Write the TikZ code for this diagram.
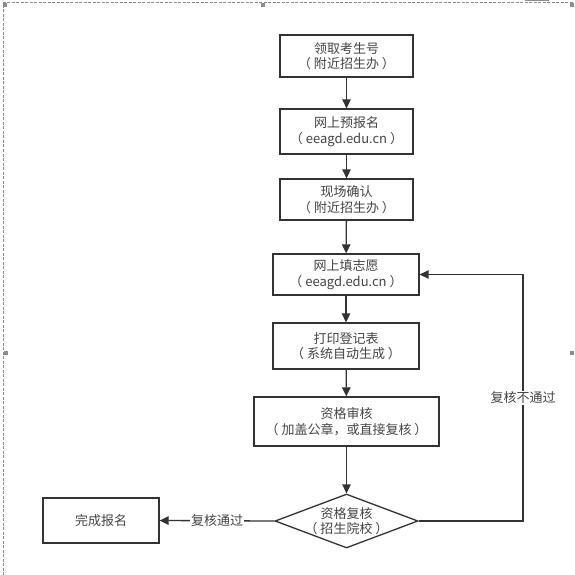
\documentclass[tikz,border=0pt]{standalone}
\usepackage{fontspec}
\setmainfont{Noto Sans CJK SC}
\usetikzlibrary{shapes.geometric,arrows.meta}
\definecolor{linec}{HTML}{333333}
\definecolor{textc}{HTML}{444444}
\definecolor{framec}{HTML}{8C8C8C}
\begin{document}
\begin{tikzpicture}[x=1pt,y=-1pt,
  every node/.style={font=\fontsize{13}{15.5}\selectfont, text=textc},
  stepbox/.style={draw=linec, line width=1.3pt, rectangle, align=center, inner sep=0pt},
  conn/.style={draw=linec, line width=1.3pt, -{Triangle[length=9pt,width=8.5pt]}},
  lbl/.style={fill=white, inner sep=1pt},
  handle/.style={fill=framec, draw=none}
]
\useasboundingbox (0,0) rectangle (574,575);
% frame
\draw[framec, line width=0.8pt, dash pattern=on 3pt off 1.5pt] (3.5,575) -- (3.5,2.5) -- (574,2.5);
\draw[framec, line width=1pt] (525,0.5) -- (549,0.5);
\fill[handle] (3,3) rectangle (7,7);
\fill[handle] (261,3) rectangle (265,7);
\fill[handle] (570,3) rectangle (574,7);
\fill[handle] (4,351) rectangle (8,355);
\fill[handle] (570,351) rectangle (574,355);

% nodes
\node[stepbox, minimum width=133pt, minimum height=42pt] (b1) at (346.5,56) {领取考生号\\（ 附近招生办 ）};
\node[stepbox, minimum width=133pt, minimum height=45pt] (b2) at (346.5,131.5) {网上预报名\\（ eeagd.edu.cn ）};
\node[stepbox, minimum width=133pt, minimum height=41pt] (b3) at (346.5,199.5) {现场确认\\（ 附近招生办 ）};
\node[stepbox, minimum width=146pt, minimum height=41pt] (b4) at (346,274.5) {网上填志愿\\（ eeagd.edu.cn ）};
\node[stepbox, minimum width=146pt, minimum height=46pt] (b5) at (346,346) {打印登记表\\（ 系统自动生成 ）};
\node[stepbox, minimum width=185pt, minimum height=49pt] (b6) at (346.5,421.5) {资格审核\\（ 加盖公章，或直接复核 ）};
\node[diamond, draw=linec, line width=1.3pt, minimum width=143pt, minimum height=54pt, inner sep=0pt] (d) at (346.5,521) {};
\node[align=center, inner sep=0pt] (dt) at (d.center) {资格复核\\（ 招生院校 ）};
\node[stepbox, minimum width=116pt, minimum height=45pt] (fin) at (101,520.5) {完成报名};
\coordinate (r) at (523,521);

% connectors
\draw[conn] (b1) -- (b2);
\draw[conn] (b2) -- (b3);
\draw[conn] (b3) -- (b4);
\draw[conn] (b4) -- (b5);
\draw[conn] (b5) -- (b6);
\draw[conn] (b6) -- (d);
\draw[conn] (d.west) -- node[lbl] {复核通过} (fin.east);
\draw[conn] (d.east) -- (r) |- node[lbl, pos=0.25] {复核不通过} (b4.east);
\end{tikzpicture}
\end{document}
